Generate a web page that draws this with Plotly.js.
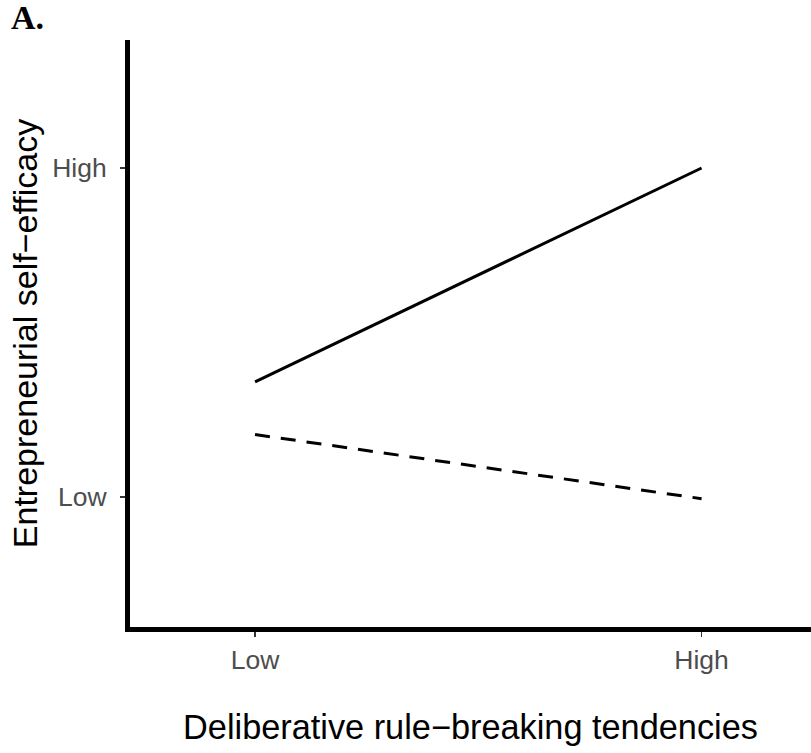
<!DOCTYPE html>
<html>
<head>
<meta charset="utf-8">
<script src="https://cdn.plot.ly/plotly-3.0.1.min.js"></script>
<style>html,body{margin:0;padding:0;background:#fff;}#chart{width:811px;height:753px;}</style>
</head>
<body>
<div id="chart"></div>
<script>
const categories = ["Low", "High"];
const seriesSolid = [0.35, 1.0];
const seriesDashed = [0.19, -0.005];
const yTickVals = [0, 1];
const yTickText = ["Low", "High"];

const traces = [
  {x: categories, y: seriesSolid, type: "scatter", mode: "lines", name: "High",
   line: {color: "#000", width: 3, dash: "solid"}, showlegend: false},
  {x: categories, y: seriesDashed, type: "scatter", mode: "lines", name: "Low",
   line: {color: "#000", width: 3, dash: "15px,11px"}, showlegend: false}
];

const layout = {
  width: 811, height: 753,
  paper_bgcolor: "#fff", plot_bgcolor: "#fff",
  margin: {l: 130, r: 0, t: 40, b: 126},
  font: {family: "Liberation Sans, Arial, sans-serif", color: "#000"},
  xaxis: {
    type: "category", range: [-0.280, 1.245],
    showgrid: false, zeroline: false,
    showline: true, linecolor: "#000", linewidth: 5,
    ticks: "outside", ticklen: 5, tickwidth: 1.5, tickcolor: "#333",
    tickfont: {size: 26.5, color: "#4d4d4d"},
    ticklabelstandoff: 0,
    title: {text: "Deliberative rule\u2212breaking tendencies", font: {size: 34.3, color: "#000"}, standoff: 43}
  },
  yaxis: {
    range: [-0.395, 1.389],
    tickvals: yTickVals, ticktext: yTickText,
    showgrid: false, zeroline: false,
    showline: true, linecolor: "#000", linewidth: 5,
    ticks: "outside", ticklen: 5, tickwidth: 1.5, tickcolor: "#333",
    tickfont: {size: 26.5, color: "#4d4d4d"},
    ticklabelstandoff: 8,
    title: {text: "Entrepreneurial self\u2212efficacy", font: {size: 34, color: "#000"}, standoff: 6}
  },
  annotations: [
    {text: "<b>A.</b>", xref: "paper", yref: "paper", x: 0, y: 1,
     xshift: -121, yshift: 23, xanchor: "left", yanchor: "middle", showarrow: false,
     font: {family: "Liberation Serif, Times New Roman, serif", size: 34, color: "#000"}}
  ]
};

Plotly.newPlot("chart", traces, layout, {displayModeBar: false, staticPlot: true});
</script>
</body>
</html>
